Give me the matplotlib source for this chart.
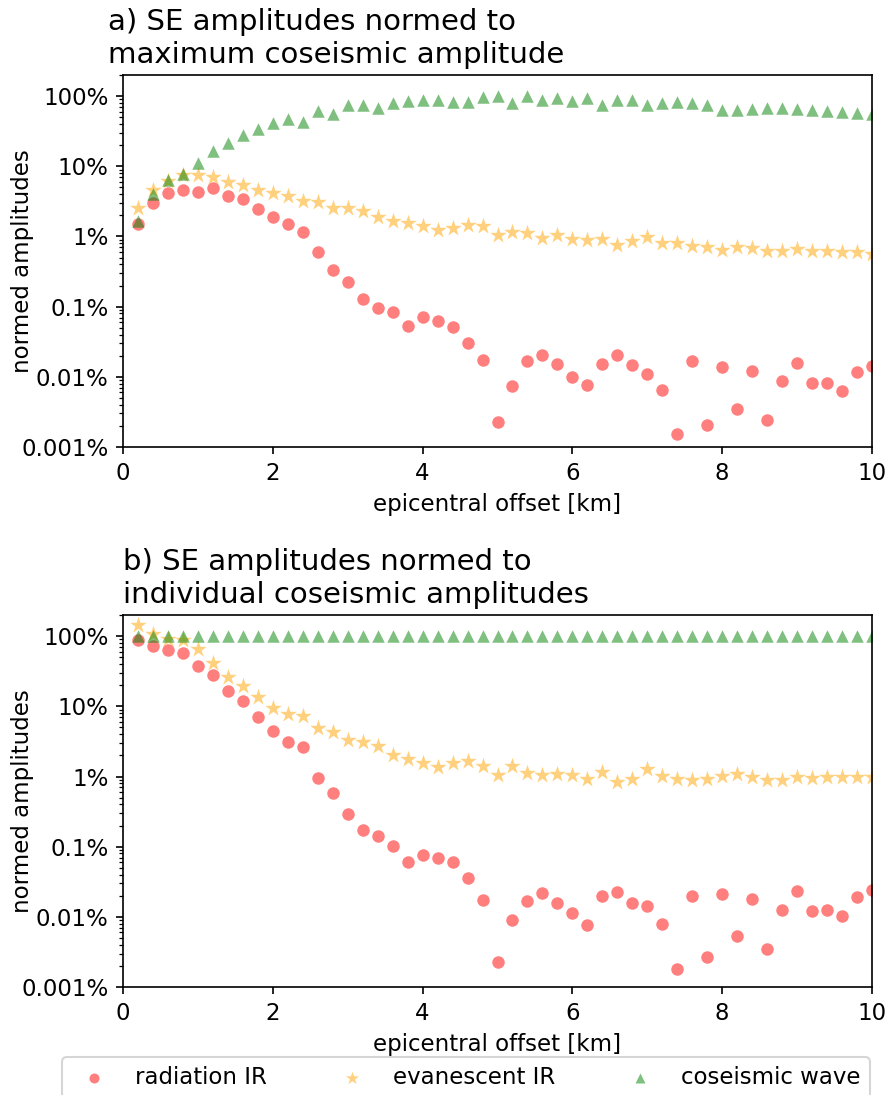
import numpy as np
import matplotlib
matplotlib.use("Agg")
import matplotlib.pyplot as plt
from matplotlib.ticker import FuncFormatter, NullFormatter

# epicentral offsets [km]
offset = [0.2 * (i + 1) for i in range(50)]

# a) normed to maximum coseismic amplitude [%]
rad_max = [1.50, 2.99, 4.19, 4.67, 4.33, 4.88, 3.76, 3.37, 2.48, 1.91,
           1.50, 1.15, 0.608, 0.334, 0.225, 0.128, 0.0963, 0.0836, 0.0535, 0.0703,
           0.0617, 0.0518, 0.0307, 0.0172, 0.00229, 0.00743, 0.0170, 0.0203, 0.0154, 0.00997,
           0.00752, 0.0154, 0.0205, 0.0145, 0.0109, 0.00645, 0.00155, 0.0167, 0.00203, 0.0138,
           0.00351, 0.0123, 0.00239, 0.00875, 0.0156, 0.0082, 0.0082, 0.00638, 0.0116, 0.0143]
eva_max = [2.56, 4.67, 6.2, 7.46, 7.55, 7.15, 5.94, 5.44, 4.62, 4.10,
           3.80, 3.23, 3.06, 2.54, 2.56, 2.32, 1.91, 1.64, 1.57, 1.42,
           1.24, 1.33, 1.46, 1.39, 1.05, 1.15, 1.12, 0.962, 1.06, 0.92,
           0.891, 0.931, 0.765, 0.862, 0.972, 0.799, 0.799, 0.740, 0.708, 0.649,
           0.701, 0.678, 0.622, 0.622, 0.664, 0.628, 0.628, 0.608, 0.595, 0.564]
cos_max = [1.68, 4.01, 6.34, 7.88, 11.3, 16.6, 21.7, 27.6, 33.6, 41.8,
           46.6, 42.7, 60.5, 56.1, 73.7, 73.7, 66.8, 78.7, 84.9, 87.7,
           87.7, 83.1, 83.0, 97.8, 99.0, 79.6, 100.0, 87.7, 93.7, 84.9,
           94.7, 74.5, 88.7, 88.7, 73.7, 78.7, 82.2, 80.4, 73.7, 62.6,
           63.2, 66.1, 66.8, 66.8, 65.4, 63.2, 61.2, 59.9, 58.0, 55.5]

# b) normed to individual coseismic amplitudes [%]
rad_ind = [86.8, 72.1, 63.3, 56.7, 37.9, 28.2, 16.7, 11.9, 7.15, 4.42,
           3.12, 2.62, 0.962, 0.576, 0.296, 0.172, 0.140, 0.102, 0.061, 0.0766,
           0.068, 0.061, 0.0357, 0.0172, 0.00229, 0.00904, 0.0167, 0.0221, 0.0158, 0.0112,
           0.00768, 0.0198, 0.0223, 0.0156, 0.0143, 0.00802, 0.0018, 0.0200, 0.0027, 0.0209,
           0.00542, 0.0180, 0.00343, 0.0125, 0.0231, 0.0123, 0.0127, 0.0103, 0.0192, 0.0241]
eva_ind = [146, 109, 89.7, 87.7, 66, 41.8, 26.4, 19.3, 13.5, 9.6,
           7.88, 7.31, 4.88, 4.38, 3.37, 3.09, 2.74, 2.02, 1.77, 1.55,
           1.35, 1.54, 1.68, 1.39, 1.05, 1.41, 1.11, 1.06, 1.08, 1.06,
           0.910, 1.17, 0.826, 0.931, 1.26, 1.02, 0.931, 0.881, 0.931, 1.02,
           1.08, 0.982, 0.891, 0.891, 0.982, 0.962, 0.972, 0.972, 0.992, 0.972]
cos_ind = [100.0] * 50

plt.rcParams['font.size'] = 11

fig = plt.figure(figsize=(890 / 150, 1095 / 150), dpi=150)
ax1 = fig.add_axes([0.1382, 0.5918, 0.8416, 0.3397])
ax2 = fig.add_axes([0.1382, 0.0986, 0.8416, 0.3397])

pct = FuncFormatter(lambda v, pos: f"{v:g}%")

panels = [
    (ax1, rad_max, eva_max, cos_max, "a) SE amplitudes normed to\nmaximum coseismic amplitude", -0.02),
    (ax2, rad_ind, eva_ind, cos_ind, "b) SE amplitudes normed to\nindividual coseismic amplitudes", 0.0),
]

for ax, rad, eva, cos, title, tx in panels:
    ax.scatter(offset, rad, s=36, marker='o', color='red', alpha=0.5, linewidths=0, label="radiation IR")
    ax.scatter(offset, eva, s=70, marker='*', color='orange', alpha=0.5, linewidths=0, label="evanescent IR")
    ax.scatter(offset, cos, s=36, marker='^', color='green', alpha=0.5, linewidths=0, label="coseismic wave")
    ax.set_yscale('log')
    ax.set_ylim(0.001, 200)
    ax.set_xlim(0, 10)
    ax.set_xticks([0, 2, 4, 6, 8, 10])
    ax.yaxis.set_major_formatter(pct)
    ax.yaxis.set_minor_formatter(NullFormatter())
    ax.set_xlabel("epicentral offset [km]")
    ax.set_ylabel("normed amplitudes")
    ax.yaxis.set_label_coords(-0.119, 0.5)
    ax.set_title(title, loc='left', x=tx, fontsize=14)

handles, labels = ax2.get_legend_handles_labels()
fig.legend(handles, labels, loc='upper left', ncol=3, mode='expand', borderaxespad=0,
           markerscale=0.8, bbox_to_anchor=(62 / 890, 1 - 1057 / 1095, 808 / 890, 0))

fig.savefig("out.png", dpi=150)
